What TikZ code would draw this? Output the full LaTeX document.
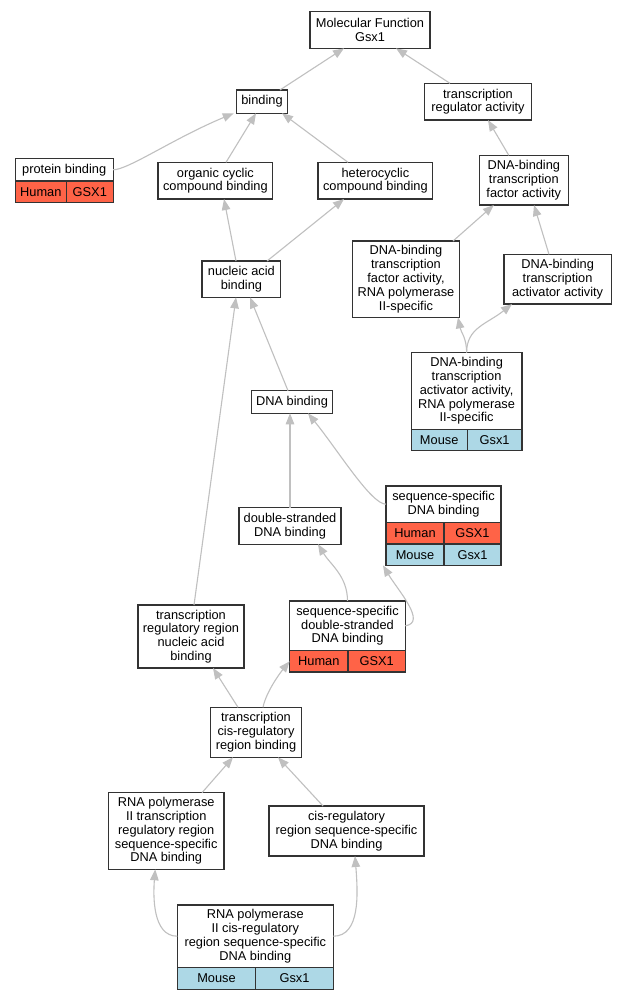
\documentclass[tikz,border=0pt]{standalone}
\usepackage{fontspec}
\setmainfont{Liberation Sans}
\usetikzlibrary{arrows.meta}
\definecolor{humanred}{HTML}{FF6347}
\definecolor{mouseblue}{HTML}{ADD8E6}
\definecolor{edgegray}{HTML}{C0C0C0}
\begin{document}
\begin{tikzpicture}[x=1pt, y=-1pt,
  font=\fontsize{12.8}{13.8}\selectfont,
  term/.style={draw=black!80, line width=1.2pt, fill=white, align=center,
    inner sep=0pt, outer sep=0pt},
  human/.style={term, fill=humanred, anchor=north west},
  mouse/.style={term, fill=mouseblue, anchor=north west},
  edge/.style={draw=edgegray, line width=1.1pt,
    -{Triangle[length=11pt, width=8.5pt, fill=edgegray]}}]
  \path[fill=white] (0,0) rectangle (628,1000);

  % top of the tree
  \node[term, minimum width=120, minimum height=36.6] (mf) at (370,30) {Molecular Function\\Gsx1};
  \node[term, minimum width=50.4, minimum height=23.3] (binding) at (262,101.6) {binding};
  \node[term, minimum width=106.4, minimum height=36.7] (tra) at (478,101.7) {transcription\\regulator activity};

  % protein binding (human)
  \node[term, minimum width=98, minimum height=22.3] (pb) at (64.2,169.8) {protein binding};
  \node[human, minimum width=51.2, minimum height=21.7] (pbH) at (pb.south west) {Human};
  \node[human, minimum width=46.8, minimum height=21.7] (pbG) at (pbH.north east) {GSX1};

  \node[term, minimum width=114.8, minimum height=36.7] (organic) at (215.4,180.7) {organic cyclic\\compound binding};
  \node[term, minimum width=114.8, minimum height=36.7] (hetero) at (375.4,180.7) {heterocyclic\\compound binding};
  \node[term, minimum width=89.2, minimum height=49.7] (dbtf) at (523.8,180.2) {DNA-binding\\transcription\\factor activity};

  % middle
  \node[term, minimum width=78.8, minimum height=36.3] (nab) at (241.4,279.2) {nucleic acid\\binding};
  \node[term, minimum width=106.4, minimum height=76.3] (tfp2) at (406,279.2) {DNA-binding\\transcription\\factor activity,\\RNA polymerase\\II-specific};
  \node[term, minimum width=107.2, minimum height=49.7] (act) at (557.6,279.2) {DNA-binding\\transcription\\activator activity};

  % activator, pol II (mouse)
  \node[term, minimum width=110.8, minimum height=76.6] (actp2) at (466.6,391) {DNA-binding\\transcription\\activator activity,\\RNA polymerase\\II-specific};
  \node[mouse, minimum width=56, minimum height=21.4] (actp2M) at (actp2.south west) {Mouse};
  \node[mouse, minimum width=54.8, minimum height=21.4] (actp2G) at (actp2M.north east) {Gsx1};

  \node[term, minimum width=81.6, minimum height=22.6] (db) at (292,402) {DNA binding};
  \node[term, minimum width=102, minimum height=36.3] (ds) at (290,526) {double-stranded\\DNA binding};

  % sequence-specific DNA binding (human, mouse)
  \node[term, minimum width=115, minimum height=36.3] (ssdb) at (443.5,504.2) {sequence-specific\\DNA binding};
  \node[human, minimum width=58, minimum height=21.7] (ssdbH) at (ssdb.south west) {Human};
  \node[human, minimum width=57, minimum height=21.7] (ssdbG) at (ssdbH.north east) {GSX1};
  \node[mouse, minimum width=58, minimum height=21.3] (ssdbM) at (ssdbH.south west) {Mouse};
  \node[mouse, minimum width=57, minimum height=21.3] (ssdbMG) at (ssdbM.north east) {Gsx1};

  \node[term, minimum width=106, minimum height=63] (trr) at (191,636.5) {transcription\\regulatory region\\nucleic acid\\binding};

  % sequence-specific double-stranded (human)
  \node[term, minimum width=115.6, minimum height=49.7] (seqds) at (347.5,625.8) {sequence-specific\\double-stranded\\DNA binding};
  \node[human, minimum width=58.3, minimum height=21.3] (seqdsH) at (seqds.south west) {Human};
  \node[human, minimum width=57.3, minimum height=21.3] (seqdsG) at (seqdsH.north east) {GSX1};

  % bottom
  \node[term, minimum width=90.6, minimum height=50] (tcrb) at (256,732.3) {transcription\\cis-regulatory\\region binding};
  \node[term, minimum width=115.7, minimum height=76.6] (rtrr) at (166.2,831) {RNA polymerase\\II transcription\\regulatory region\\sequence-specific\\DNA binding};
  \node[term, minimum width=155, minimum height=50] (cis) at (346.5,831) {cis-regulatory\\region sequence-specific\\DNA binding};
  \node[term, minimum width=156, minimum height=62.3] (bot) at (255.3,936.2) {RNA polymerase\\II cis-regulatory\\region sequence-specific\\DNA binding};
  \node[mouse, minimum width=78.4, minimum height=22] (botM) at (bot.south west) {Mouse};
  \node[mouse, minimum width=77.6, minimum height=22] (botG) at (botM.north east) {Gsx1};

  % is-a edges
  \draw[edge] ([xshift=18]binding.north) -- ([xshift=-26]mf.south);
  \draw[edge] ([xshift=-28]tra.north) -- ([xshift=26]mf.south);
  \draw[edge] (pb.east) .. controls +(15,0) and +(-60,25) .. ([xshift=-3]binding.south west);
  \draw[edge] ([xshift=10.6]organic.north) -- ([xshift=-6]binding.south);
  \draw[edge] ([xshift=-27.4]hetero.north) -- ([xshift=20]binding.south);
  \draw[edge] ([xshift=-15]dbtf.north) -- ([xshift=10]tra.south);
  \draw[edge] ([xshift=-5.4]nab.north) -- ([xshift=8.6]organic.south);
  \draw[edge] ([xshift=25.6]nab.north) -- ([xshift=-31.4]hetero.south);
  \draw[edge] ([xshift=47]tfp2.north) -- ([xshift=-30]dbtf.south);
  \draw[edge] ([xshift=-8.6]act.north) -- ([xshift=10.2]dbtf.south);
  \draw[edge] (actp2.north) .. controls +(0,-15) and +(3,15) .. ([xshift=52]tfp2.south);
  \draw[edge] (actp2.north) .. controls +(0,-25) and +(-25,20) .. ([xshift=-45.6]act.south);
  \draw[edge] ([xshift=-4]db.north) -- ([xshift=8.6]nab.south);
  \draw[edge] ([xshift=3]trr.north) -- ([xshift=-5.4]nab.south);
  \draw[edge] (ds.north) -- (ds.north |- db.south);
  \draw[edge] (ssdb.west) .. controls +(-15,0) and +(30,37) .. ([xshift=16]db.south);
  \draw[edge] (seqds.north) .. controls +(0,-25) and +(12,20) .. ([xshift=28]ds.south);
  \draw[edge] (seqds.east) .. controls +(22,-3) and +(15,25) .. ([xshift=-3]ssdbM.south west);
  \draw[edge] ([xshift=-18]tcrb.north) -- ([xshift=22]trr.south);
  \draw[edge] ([xshift=7]tcrb.north) .. controls +(3,-15) and +(-10,12) .. (seqdsH.west);
  \draw[edge] ([xshift=35.8]rtrr.north) -- ([xshift=-23]tcrb.south);
  \draw[edge] ([xshift=-23.5]cis.north) -- ([xshift=22]tcrb.south);
  \draw[edge] (bot.west) .. controls +(-25,0) and +(-2,26) .. ([xshift=-11]rtrr.south);
  \draw[edge] (bot.east) .. controls +(27,0) and +(3,38) .. ([xshift=8.5]cis.south);
\end{tikzpicture}
\end{document}
